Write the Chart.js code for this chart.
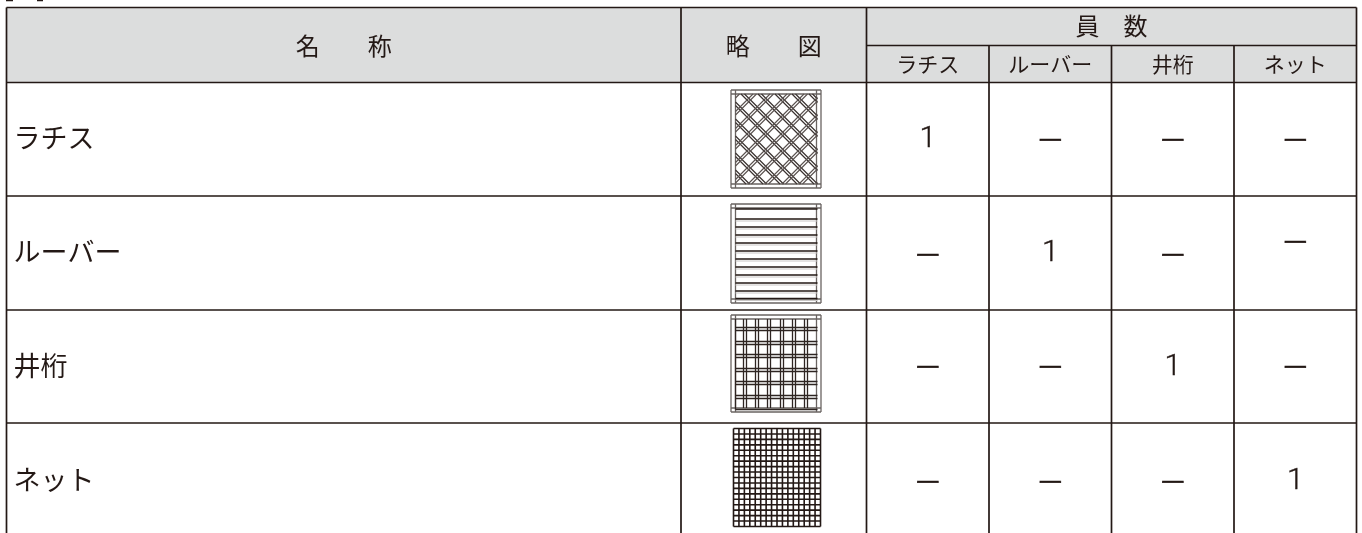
<!DOCTYPE html>
<html lang="ja">
<head>
<meta charset="utf-8">
<title>員数</title>
<script src="https://cdn.jsdelivr.net/npm/chart.js@4/dist/chart.umd.min.js"></script>
<style>
    html, body { margin: 0; padding: 0; background: #fff; overflow: hidden; }
    #wrap { width: 1362px; height: 533px; }
</style>
</head>
<body>
<div id="wrap"><canvas id="tableChart"></canvas></div>
<script>
// Table contents
const rowNames = ['ラチス', 'ルーバー', '井桁', 'ネット'];
const countHeads = ['ラチス', 'ルーバー', '井桁', 'ネット'];
const countValues = [
    [1, null, null, null],
    [null, 1, null, null],
    [null, null, 1, null],
    [null, null, null, 1]
];

// Table layout, in page pixels
const colEdges = [6.5, 681, 866.5, 989, 1111.5, 1234, 1356.5];
const rowEdges = [83, 196, 310, 423, 533];
const rowTextY = [138, 252, 366, 480];
const dashY = [
    [137, 137, 137, 137],
    [252, 252, 252, 239],
    [364, 364, 364, 364],
    [479, 479, 479, 479]
];
const topY = 7.5, midY = 45.5, headY = 82.5;

const inkColor = '#231815';
const frameColor = '#6a6462';
const headFill = '#dcdddd';

// collect [x1, y1, x2, y2] segments into one dataset, split with nulls
function lineSet(segments, color, width) {
    const data = [];
    segments.forEach(s => {
        data.push({ x: s[0], y: s[1] }, { x: s[2], y: s[3] }, { x: null, y: null });
    });
    return {
        type: 'scatter', data: data, showLine: true, spanGaps: false,
        borderColor: color, borderWidth: width, pointRadius: 0, fill: false, animation: false
    };
}

const tableRules = [
    [colEdges[0], topY, colEdges[6], topY],
    [colEdges[2], midY, colEdges[6], midY],
    [colEdges[0], headY, colEdges[6], headY]
];
rowEdges.slice(1, 4).forEach(y => tableRules.push([colEdges[0], y, colEdges[6], y]));
[0, 1, 2, 6].forEach(i => tableRules.push([colEdges[i], topY, colEdges[i], 533]));
[3, 4, 5].forEach(i => tableRules.push([colEdges[i], midY, colEdges[i], 533]));

// the caption above the table is cut off by the page edge, only its brackets show
const captionBits = [[6, 0.5, 13, 0.5], [37, 0.5, 43, 0.5]];

// outer frame of a sketch: double line on each side
function frame(x1, y1, x2, y2) {
    const ix1 = x1 + 4.5, ix2 = x2 - 4.5, iy1 = y1 + 4, iy2 = y2 - 4;
    return [
        [x1, y1, x2, y1], [x1, y2, x2, y2], [x1, y1, x1, y2], [x2, y1, x2, y2],
        [ix1, y1, ix1, y2], [ix2, y1, ix2, y2], [x1, iy1, x2, iy1], [x1, iy2, x2, iy2]
    ];
}

// 45 degree line clipped to a box; dir 1 = "\" and -1 = "/"
function diagonal(c, dir, x1, y1, x2, y2) {
    let a, b;
    if (dir === 1) {
        a = Math.max(x1, y1 + c);
        b = Math.min(x2, y2 + c);
        return a < b ? [a, a - c, b, b - c] : null;
    }
    a = Math.max(x1, c - y2);
    b = Math.min(x2, c - y1);
    return a < b ? [a, c - a, b, c - b] : null;
}

// ラチス
const latticeBack = [], latticeFront = [];
for (let c = 545; c < 760; c += 17) {
    [0, 3.5].forEach(gap => {
        const s = diagonal(c + gap, 1, 735.5, 94, 817.5, 184);
        if (s) latticeFront.push(s);
    });
}
for (let c = 830; c < 1010; c += 17) {
    [0, 3.5].forEach(gap => {
        const s = diagonal(c + gap, -1, 735.5, 94, 817.5, 184);
        if (s) latticeBack.push(s);
    });
}

// ルーバー
const slatY = [219, 227, 235, 243, 251, 259, 267, 275, 283, 291, 298.5];
const louverDark = slatY.map(y => [735.5, y, 817.5, y]);
const louverPale = slatY.map(y => [735.5, y + 2, 817.5, y + 2]);
louverDark.push([735.5, 209, 817.5, 209]);

// 井桁
const wellX = [745, 757, 769, 782, 794, 806];
const wellY = [329, 343, 356, 370, 383, 397];
const wellLines = [[735.5, 409.5, 817.5, 409.5], [735.5, 319, 735.5, 409.5]];
wellX.forEach(x => {
    wellLines.push([x - 1.5, 319, x - 1.5, 408], [x + 1.5, 319, x + 1.5, 408]);
});
wellY.forEach(y => {
    wellLines.push([735.5, y - 1.5, 817.5, y - 1.5], [735.5, y + 1.5, 817.5, y + 1.5]);
});

// ネット
const netLines = [];
const netCols = 16, netRows = 18;
for (let i = 0; i <= netCols; i++) {
    const x = 733.5 + i * 87 / netCols;
    netLines.push([x, 428.5, x, 526.5]);
}
for (let i = 0; i <= netRows; i++) {
    const y = 428.5 + i * 98 / netRows;
    netLines.push([733.5, y, 820.5, y]);
}

const tableTextPlugin = {
    id: 'tableText',
    beforeDatasetsDraw(chart) {
        const c = chart.ctx, xs = chart.scales.x, ys = chart.scales.y;
        const left = xs.getPixelForValue(colEdges[0]), right = xs.getPixelForValue(colEdges[6]);
        const top = ys.getPixelForValue(topY), bottom = ys.getPixelForValue(headY);
        c.save();
        c.fillStyle = headFill;
        c.fillRect(left, top, right - left, bottom - top);
        c.restore();
    },
    afterDatasetsDraw(chart) {
        const c = chart.ctx, xs = chart.scales.x, ys = chart.scales.y;
        const put = (text, x, y, font, align, stroke) => {
            c.font = font;
            c.textAlign = align || 'center';
            c.fillText(text, xs.getPixelForValue(x), ys.getPixelForValue(y));
            if (stroke) {
                c.lineWidth = stroke;
                c.strokeText(text, xs.getPixelForValue(x), ys.getPixelForValue(y));
            }
        };
        const jp = size => size + 'px "Noto Sans CJK JP"';
        const mid = i => (colEdges[i] + colEdges[i + 1]) / 2;

        c.save();
        c.fillStyle = inkColor;
        c.strokeStyle = inkColor;
        c.textBaseline = 'middle';

        put('名\u3000\u3000称', mid(0), 46, jp(24));
        put('略\u3000\u3000図', mid(1), 46, jp(24));
        put('員\u3000数', (colEdges[2] + colEdges[6]) / 2, 26, jp(24));
        countHeads.forEach((h, i) => put(h, mid(i + 2), 64, jp(21)));

        rowNames.forEach((name, r) => {
            put(name, 13.5, rowTextY[r], jp(27), 'left');
            countValues[r].forEach((v, i) => {
                if (v === null) {
                    put('\u2014', mid(i + 2), dashY[r][i], jp(26), 'center', 0.7);
                } else {
                    put(String(v), mid(i + 2), rowTextY[r] + 1, '300 30px Roboto', 'center', 0.4);
                }
            });
        });
        c.restore();
    }
};

new Chart(document.getElementById('tableChart'), {
    data: {
        datasets: [
            lineSet(latticeBack, '#5a5250', 1.1),
            lineSet(latticeFront, '#3a3230', 1.2),
            lineSet(frame(731, 90, 821, 188), frameColor, 1.3),
            lineSet(louverPale, '#c9c6c5', 1),
            lineSet(louverDark, inkColor, 1.4),
            lineSet(frame(731, 204, 821, 303), frameColor, 1.3),
            lineSet(wellLines, '#2e2522', 1.3),
            lineSet(frame(731, 315, 821, 412), frameColor, 1.3),
            lineSet(netLines, inkColor, 1.6),
            lineSet(captionBits, inkColor, 1.6),
            lineSet(tableRules, inkColor, 1.7)
        ]
    },
    options: {
        responsive: true,
        maintainAspectRatio: false,
        animation: false,
        events: [],
        layout: { padding: 0 },
        plugins: { legend: { display: false }, tooltip: { enabled: false }, title: { display: false } },
        scales: {
            x: { type: 'linear', min: 0, max: 1362, display: false },
            y: { type: 'linear', min: 0, max: 533, reverse: true, display: false }
        }
    },
    plugins: [tableTextPlugin]
});
</script>
</body>
</html>
